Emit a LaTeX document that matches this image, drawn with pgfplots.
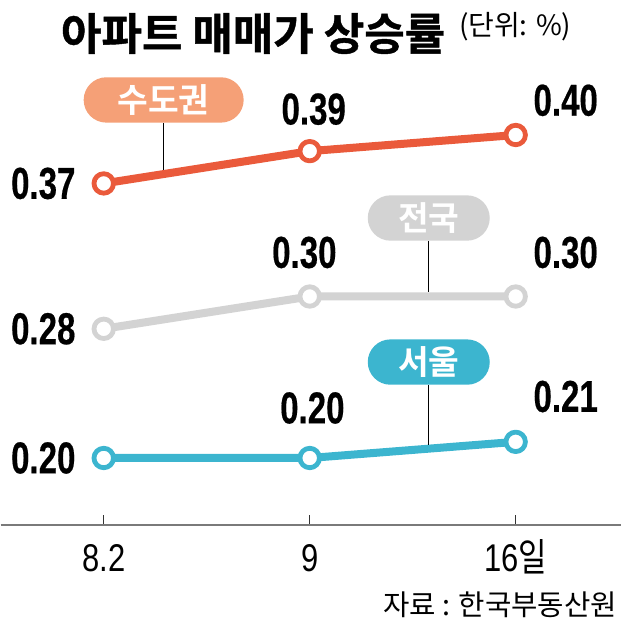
\documentclass[border=0pt]{standalone}
\usepackage{pgfplots}
\pgfplotsset{compat=1.18}
\usepackage{fontspec}
\setmainfont{Liberation Sans}
\newfontfamily\kr{Noto Sans CJK KR}[BoldFont={Noto Sans CJK KR Bold}]
\newfontfamily\krh{Noto Sans CJK KR Bold}[FakeBold=1]
\newfontfamily\numf{Liberation Sans Bold}[FakeBold=0.5]
\definecolor{sudo}{HTML}{EA5A3B}
\definecolor{sudotag}{HTML}{F5A077}
\definecolor{jeon}{HTML}{D3D3D3}
\definecolor{seoul}{HTML}{3CB5CF}
\definecolor{axisgray}{HTML}{7A7A7A}
\newcommand\cond[2][0.74]{\scalebox{#1}[1]{#2}}
\tikzset{
  vlab/.style={inner sep=0pt, font=\fontsize{33.5}{34}\selectfont\numf},
  tag/.style={rounded corners=17pt, minimum height=34pt, inner sep=0pt,
    text=white, font=\fontsize{25}{26}\selectfont\kr\bfseries},
  conn/.style={draw=black, line width=0.75pt, shorten >=3pt},
}
\begin{document}
\begin{tikzpicture}
\begin{axis}[
  scale only axis, width=465pt, height=393.75pt,
  xmin=-0.5, xmax=2.51, ymin=0.15851, ymax=0.48359,
  axis y line=none, axis x line=bottom,
  x axis line style={-, draw=axisgray, line width=1.1pt},
  xtick={0,1,2},
  xticklabels={\cond[0.8]{8.2}, \cond[0.8]{9}, \cond[0.8]{16{\kr 일}}},
  ytick=\empty,
  tick align=inside, major tick length=7.5pt,
  tick style={draw=black!80, line width=0.7pt},
  xticklabel style={anchor=base, yshift=-35pt, font=\fontsize{29}{30}\selectfont},
  clip=false,
]
% 전국
\addplot[jeon, line width=6pt, line join=round, mark=*, mark size=7.3pt,
  mark options={fill=white, draw=jeon, line width=3.6pt}]
  coordinates {(0,0.28)(1,0.30)(2,0.30)};
% 수도권
\addplot[sudo, line width=6pt, line join=round, mark=*, mark size=7.3pt,
  mark options={fill=white, draw=sudo, line width=3.6pt}]
  coordinates {(0,0.37)(1,0.39)(2,0.40)};
% 서울
\addplot[seoul, line width=6pt, line join=round, mark=*, mark size=7.3pt,
  mark options={fill=white, draw=seoul, line width=3.6pt}]
  coordinates {(0,0.20)(1,0.20)(2,0.21)};

% value labels
\node[vlab, anchor=east, xshift=-21pt] at (axis cs:0,0.37) {\cond{0.37}};
\node[vlab, xshift=3pt, yshift=31.5pt] at (axis cs:1,0.39) {\cond{0.39}};
\node[vlab, xshift=37.5pt, yshift=26pt] at (axis cs:2,0.40) {\cond{0.40}};
\node[vlab, anchor=east, xshift=-21pt] at (axis cs:0,0.28) {\cond{0.28}};
\node[vlab, xshift=-4pt, yshift=33pt] at (axis cs:1,0.30) {\cond{0.30}};
\node[vlab, xshift=37.5pt, yshift=33pt] at (axis cs:2,0.30) {\cond{0.30}};
\node[vlab, anchor=east, xshift=-21pt] at (axis cs:0,0.20) {\cond{0.20}};
\node[vlab, xshift=2pt, yshift=37.5pt] at (axis cs:1,0.20) {\cond{0.20}};
\node[vlab, xshift=37.5pt, yshift=34pt] at (axis cs:2,0.21) {\cond{0.21}};

% series tags
\node[tag, fill=sudotag, minimum width=120pt] (t1) at (axis cs:0.291,0.4217) {수도권};
\draw[conn] (t1.south) -- (axis cs:0.291,0.3758);
\node[tag, fill=jeon, minimum width=91.5pt] (t2) at (axis cs:1.578,0.3486) {전국};
\draw[conn] (t2.south) -- (axis cs:1.578,0.30);
\node[tag, fill=seoul, minimum width=91.5pt] (t3) at (axis cs:1.578,0.2594) {서울};
\draw[conn] (t3.south) -- (axis cs:1.578,0.2058);

% title, unit, source
\node[anchor=base west, inner sep=0pt, font=\fontsize{33}{34}\selectfont\krh]
  at ([shift={(45pt,-37.5pt)}]rel axis cs:0,1) {아파트 매매가 상승률};
\node[anchor=base west, inner sep=0pt, font=\fontsize{21}{22}\selectfont\kr]
  at ([shift={(343.5pt,-27pt)}]rel axis cs:0,1) {(단위: \%)};
\node[anchor=base east, inner sep=0pt, font=\fontsize{21.5}{22}\selectfont\kr]
  at ([shift={(-2.5pt,-67.5pt)}]rel axis cs:1,0) {자료 : 한국부동산원};

\path ([yshift=-75pt]rel axis cs:0,0) (rel axis cs:1,1);
\end{axis}
\end{tikzpicture}
\end{document}
